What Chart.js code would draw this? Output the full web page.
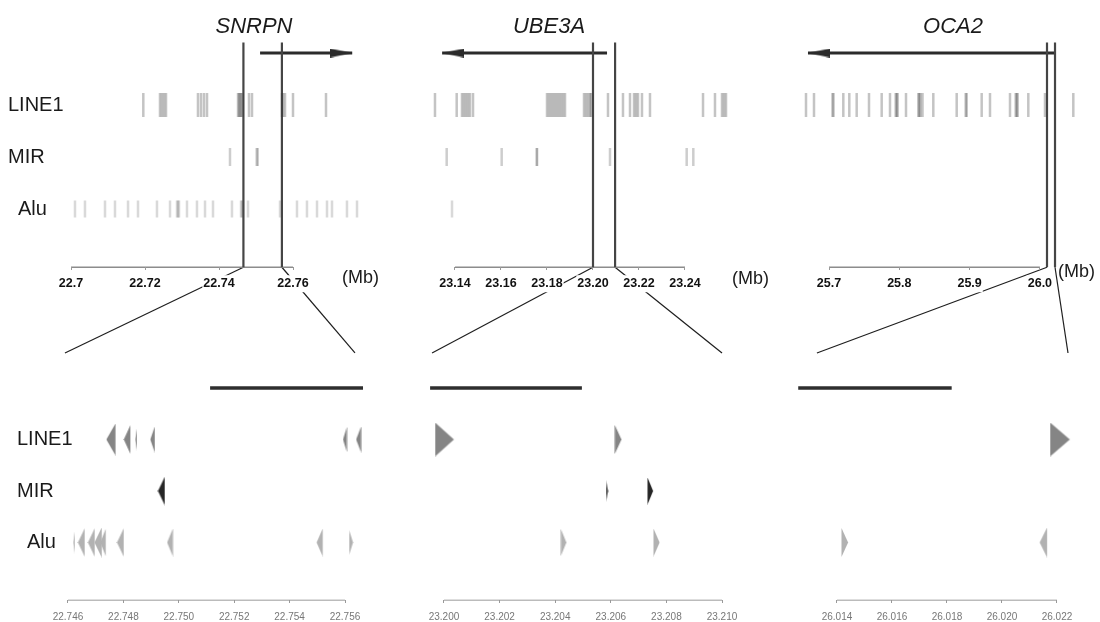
<!DOCTYPE html>
<html>
<head>
<meta charset="utf-8">
<script src="https://cdn.jsdelivr.net/npm/chart.js@4.4.1/dist/chart.umd.min.js"></script>
<style>
  body { margin: 0; background: #fff; }
  #c { display: block; }
</style>
</head>
<body>
<canvas id="c" width="1100" height="622"></canvas>
<script>
// ---- data (positions in Mb) ----
const genes = ['SNRPN', 'UBE3A', 'OCA2'];
const repeatTypes = ['LINE1', 'MIR', 'Alu'];

const overviewTicks = [
    ['22.7', '22.72', '22.74', '22.76'],
    ['23.14', '23.16', '23.18', '23.20', '23.22', '23.24'],
    ['25.7', '25.8', '25.9', '26.0']
];
const zoomTicks = [
    ['22.746', '22.748', '22.750', '22.752', '22.754', '22.756'],
    ['23.200', '23.202', '23.204', '23.206', '23.208', '23.210'],
    ['26.014', '26.016', '26.018', '26.020', '26.022']
];

// gene arrows in the overview, strand +1 = rightwards
const geneStart = [22.7511, 23.1344, 25.6701];
const geneEnd = [22.7760, 23.2061, 26.0215];
const geneStrand = [1, -1, -1];

// zoomed window as marked by the two vertical lines
const zoomFrom = [22.7466, 23.2000, 26.0101];
const zoomTo = [22.7570, 23.2096, 26.0215];
// where the connector lines land on the zoom panel
const linkEnds = [[22.74589, 22.75636], [23.19957, 23.21000], [26.01327, 26.02240]];

// gene bar in the zoomed panel
const zoomGeneStart = [22.75113, 23.19950, 26.01259];
const zoomGeneEnd = [22.75665, 23.20496, 26.01817];

// overview repeat hits
const overLINE1 = [
    [22.71954, 22.72405, 22.72459, 22.72514, 22.72568, 22.73432, 22.73514, 22.73595, 22.73676,
     22.74514, 22.74541, 22.74568, 22.74595, 22.74622, 22.74811, 22.74892, 22.75703, 22.75730,
     22.75784, 22.76000, 22.76892],
    [23.13130, 23.14074, 23.14304, 23.14391, 23.14478, 23.14565, 23.14652, 23.14783, 23.18000,
     23.18087, 23.18174, 23.18261, 23.18348, 23.18435, 23.18522, 23.18609, 23.18696, 23.18783,
     23.19609, 23.19696, 23.19783, 23.19870, 23.19913, 23.20652, 23.21304, 23.21609, 23.21783,
     23.21870, 23.21957, 23.22130, 23.22478, 23.24783, 23.25304, 23.25609, 23.25696, 23.25783],
    [25.66728, 25.67866, 25.70498, 25.70640, 25.72034, 25.72888, 25.73940, 25.75690, 25.77496,
     25.78677, 25.79488, 25.79630, 25.79772, 25.80953, 25.82703, 25.82845, 25.82987, 25.83300,
     25.84836, 25.88165, 25.89445, 25.89587, 25.91721, 25.92902, 25.95747, 25.96558, 25.96700,
     25.96842, 25.98350, 26.00725, 26.04751]
];
const overMIR = [
    [22.74297, 22.75019, 22.75046],
    [23.13639, 23.16030, 23.17552, 23.17570, 23.20739, 23.24074, 23.24361],
    []
];
const overAlu = [
    [22.70108, 22.70378, 22.70919, 22.71189, 22.71541, 22.71811, 22.72324, 22.72676, 22.72865,
     22.72892, 22.72919, 22.73135, 22.73405, 22.73622, 22.73838, 22.74351, 22.74595, 22.74622,
     22.74649, 22.74784, 22.75649, 22.76108, 22.76378, 22.76649, 22.76919, 22.77054, 22.77459,
     22.77730],
    [23.13870],
    []
];

// zoomed repeats: [start, end, strand]
const zoomLINE1 = [
    [[22.74740, 22.74773, -1], [22.74802, 22.74826, -1], [22.74844, 22.74849, -1],
     [22.74898, 22.74914, -1], [22.75593, 22.75607, -1], [22.75640, 22.75658, -1]],
    [[23.19968, 23.20036, 1], [23.20615, 23.20639, 1]],
    [[26.02175, 26.02247, 1]]
];
const zoomMIR = [
    [[22.74925, 22.74950, -1]],
    [[23.20583, 23.20590, 1], [23.20733, 23.20753, 1]],
    []
];
const zoomAlu = [
    [[22.74620, 22.74625, -1], [22.74636, 22.74661, -1], [22.74672, 22.74697, -1],
     [22.74697, 22.74723, -1], [22.74717, 22.74737, -1], [22.74777, 22.74802, -1],
     [22.74958, 22.74979, -1], [22.75499, 22.75521, -1], [22.75615, 22.75629, 1]],
    [[23.20421, 23.20441, 1], [23.20755, 23.20777, 1]],
    [[26.01417, 26.01441, 1], [26.02138, 26.02165, -1]]
];

// ---- layout ----
const W = 1100, H = 622;
const FONT = "'Liberation Sans', Arial, sans-serif";
// page pixel of the first tick and px per Mb for each panel
const panels = [
    {top: [71, 3700], zoom: [68, 27700], titleX: 254, mbX: 342, mbY: 278},
    {top: [455, 2300], zoom: [444, 27800], titleX: 549, mbX: 732, mbY: 279},
    {top: [829, 703], zoom: [837, 27500], titleX: 953, mbX: 1058, mbY: 272}
];
// page pixel of row 0 and px per row for the two tiers
const tiers = {yTop: [53, 52], yBot: [388, 51.5]};
const AXIS_ROW = 4.12, LINK_ROW = -0.68, BOUND_TOP = -0.2;

const streakStyle = {
    LINE1: {r: 12, color: 'rgba(60,60,60,0.30)'},
    MIR: {r: 9, color: 'rgba(60,60,60,0.26)'},
    Alu: {r: 8.5, color: 'rgba(80,80,80,0.22)'}
};
const triColor = {LINE1: '#858585', MIR: '#262626', Alu: '#b2b2b2'};
const overview = {LINE1: overLINE1, MIR: overMIR, Alu: overAlu};
const zoomed = {LINE1: zoomLINE1, MIR: zoomMIR, Alu: zoomAlu};

// min/max so that value v0 lands on page pixel p0 inside [start, end]
function span(v0, p0, perUnit, start, end) {
    const min = v0 - (p0 - start) / perUnit;
    return {min: min, max: min + (end - start) / perUnit};
}

const triCache = {};
function triangle(w, h, dir, color, half) {
    const key = [w.toFixed(1), h.toFixed(1), dir, color, half].join('|');
    if (triCache[key]) return triCache[key];
    const cw = Math.ceil(w) * (half ? 2 : 1) + (half ? 0 : 1);
    const ch = Math.ceil(h);
    const cv = document.createElement('canvas');
    cv.width = cw;
    cv.height = ch;
    const g = cv.getContext('2d');
    const x0 = half ? (dir > 0 ? 0 : cw / 2) : 0.5;
    const base = dir > 0 ? x0 : x0 + w;
    const tip = dir > 0 ? x0 + w : x0;
    g.fillStyle = color;
    g.beginPath();
    g.moveTo(base, 0);
    g.lineTo(tip, ch / 2);
    g.lineTo(base, ch);
    g.closePath();
    g.fill();
    triCache[key] = cv;
    return cv;
}

function noPad(s) {
    s.paddingLeft = s.paddingRight = s.paddingTop = s.paddingBottom = 0;
}

function axisOpts(labels, range, yId, font, color, padding) {
    return {
        type: 'linear',
        bounds: 'data',
        min: range.min,
        max: range.max,
        position: {[yId]: AXIS_ROW},
        afterBuildTicks: s => { s.ticks = labels.map(t => ({value: parseFloat(t)})); },
        afterFit: noPad,
        ticks: {
            autoSkip: false,
            maxRotation: 0,
            font: font,
            color: color,
            padding: padding,
            callback: (v, k) => labels[k],
            showLabelBackdrop: true,
            backdropColor: '#fff',
            backdropPadding: 1
        },
        grid: {drawOnChartArea: false, drawTicks: true, tickLength: 3, color: '#999'},
        border: {display: false}
    };
}

const scales = {};
Object.keys(tiers).forEach(id => {
    scales[id] = Object.assign({type: 'linear', display: false, reverse: true, bounds: 'data', afterFit: noPad},
        span(0, tiers[id][0], tiers[id][1], 0, H));
});

const datasets = [];
genes.forEach((g, i) => {
    const p = panels[i];
    const xt = 'xTop' + i, xb = 'xBot' + i;
    scales[xt] = axisOpts(overviewTicks[i], span(parseFloat(overviewTicks[i][0]), p.top[0], p.top[1], 0, W),
        'yTop', {family: FONT, size: 12.5, weight: 'bold'}, '#111', 6);
    scales[xb] = axisOpts(zoomTicks[i], span(parseFloat(zoomTicks[i][0]), p.zoom[0], p.zoom[1], 0, W),
        'yBot', {family: FONT, size: 10}, '#777', 8);

    // overview streaks
    repeatTypes.forEach((t, k) => {
        datasets.push({
            data: overview[t][i].map(x => ({x: x, y: k + 1})),
            xAxisID: xt, yAxisID: 'yTop',
            showLine: false,
            pointStyle: 'line',
            pointRotation: 90,
            pointRadius: streakStyle[t].r,
            pointBorderWidth: 2.5,
            pointBorderColor: streakStyle[t].color,
            pointBackgroundColor: streakStyle[t].color
        });
    });

    // zoom window boundaries
    [zoomFrom[i], zoomTo[i]].forEach(v => {
        datasets.push({
            data: [{x: v, y: BOUND_TOP}, {x: v, y: AXIS_ROW}],
            xAxisID: xt, yAxisID: 'yTop',
            showLine: true, borderColor: '#454545', borderWidth: 2.2, pointRadius: 0
        });
    });

    // gene arrow
    const dir = geneStrand[i];
    const tail = dir > 0 ? geneStart[i] : geneEnd[i];
    const head = dir > 0 ? geneEnd[i] : geneStart[i];
    datasets.push({
        data: [{x: tail, y: 0}, {x: head, y: 0}],
        xAxisID: xt, yAxisID: 'yTop',
        showLine: true, borderColor: '#2b2b2b', borderWidth: 3,
        pointRadius: c => c.dataIndex === 1 ? 3 : 0,
        pointStyle: c => c.dataIndex === 1 ? triangle(22, 9, dir, '#2b2b2b', true) : 'circle'
    });

    // gene bar in zoom panel
    datasets.push({
        data: [{x: zoomGeneStart[i], y: 0}, {x: zoomGeneEnd[i], y: 0}],
        xAxisID: xb, yAxisID: 'yBot',
        showLine: true, borderColor: '#2e2e2e', borderWidth: 3.5, pointRadius: 0
    });

    // zoomed repeats as strand triangles
    repeatTypes.forEach((t, k) => {
        datasets.push({
            data: zoomed[t][i].map(e => ({x: (e[0] + e[1]) / 2, y: k + 1, start: e[0], end: e[1], strand: e[2]})),
            xAxisID: xb, yAxisID: 'yBot',
            showLine: false,
            pointRadius: 3,
            pointStyle: c => {
                const r = c.raw, s = c.chart.scales[xb];
                if (!r || !s) return 'circle';
                const w = Math.max(1.5, Math.abs(s.getPixelForValue(r.end) - s.getPixelForValue(r.start)));
                return triangle(w, Math.min(34, 19 + 1.4 * w), r.strand, triColor[t], false);
            }
        });
    });
});

const decor = {
    id: 'decor',
    beforeDraw(chart) {
        const ctx = chart.ctx, sc = chart.scales;
        ctx.save();
        genes.forEach((g, i) => {
            const xt = sc['xTop' + i], xb = sc['xBot' + i];
            // connector lines
            ctx.strokeStyle = '#1e1e1e';
            ctx.lineWidth = 1.2;
            [zoomFrom[i], zoomTo[i]].forEach((v, k) => {
                ctx.beginPath();
                ctx.moveTo(xt.getPixelForValue(v), sc.yTop.getPixelForValue(AXIS_ROW));
                ctx.lineTo(xb.getPixelForValue(linkEnds[i][k]), sc.yBot.getPixelForValue(LINK_ROW));
                ctx.stroke();
            });
            // axis lines
            const ot = overviewTicks[i], zt = zoomTicks[i];
            ctx.strokeStyle = '#8c8c8c';
            ctx.lineWidth = 1.4;
            let y = sc.yTop.getPixelForValue(AXIS_ROW);
            ctx.beginPath();
            ctx.moveTo(xt.getPixelForValue(parseFloat(ot[0])), y);
            ctx.lineTo(xt.getPixelForValue(parseFloat(ot[ot.length - 1])), y);
            ctx.stroke();
            ctx.strokeStyle = '#9a9a9a';
            ctx.lineWidth = 1;
            y = sc.yBot.getPixelForValue(AXIS_ROW);
            ctx.beginPath();
            ctx.moveTo(xb.getPixelForValue(parseFloat(zt[0])), y);
            ctx.lineTo(xb.getPixelForValue(parseFloat(zt[zt.length - 1])), y);
            ctx.stroke();
        });
        ctx.restore();
    },
    afterDraw(chart) {
        const ctx = chart.ctx, sc = chart.scales;
        ctx.save();
        ctx.fillStyle = '#1a1a1a';
        ctx.textBaseline = 'middle';
        genes.forEach((g, i) => {
            const p = panels[i];
            ctx.textAlign = 'center';
            ctx.font = 'italic 22px ' + FONT;
            ctx.fillText(g, p.titleX, 27);
            ctx.textAlign = 'left';
            ctx.font = '18px ' + FONT;
            ctx.fillText('(Mb)', p.mbX, p.mbY);
        });
        ctx.font = '20px ' + FONT;
        ctx.textAlign = 'left';
        const indent = [0, 0, 10];
        repeatTypes.forEach((t, k) => {
            ctx.fillText(t, 8 + indent[k], sc.yTop.getPixelForValue(k + 1));
            ctx.fillText(t, 17 + indent[k], sc.yBot.getPixelForValue(k + 1));
        });
        ctx.restore();
    }
};

const chart = new Chart(document.getElementById('c').getContext('2d'), {
    type: 'scatter',
    data: {datasets: datasets},
    options: {
        responsive: false,
        animation: false,
        events: [],
        layout: {padding: 0},
        scales: scales,
        plugins: {
            legend: {display: false},
            tooltip: {enabled: false}
        }
    },
    plugins: [decor]
});

// re-anchor the scales to the chart area the layout actually produced
function fitToArea() {
    const a = chart.chartArea, so = chart.options.scales;
    Object.keys(tiers).forEach(id => {
        Object.assign(so[id], span(0, tiers[id][0], tiers[id][1], a.top, a.bottom));
    });
    genes.forEach((g, i) => {
        const p = panels[i];
        Object.assign(so['xTop' + i], span(parseFloat(overviewTicks[i][0]), p.top[0], p.top[1], a.left, a.right));
        Object.assign(so['xBot' + i], span(parseFloat(zoomTicks[i][0]), p.zoom[0], p.zoom[1], a.left, a.right));
    });
    chart.update('none');
}
fitToArea();
fitToArea();
</script>
</body>
</html>
